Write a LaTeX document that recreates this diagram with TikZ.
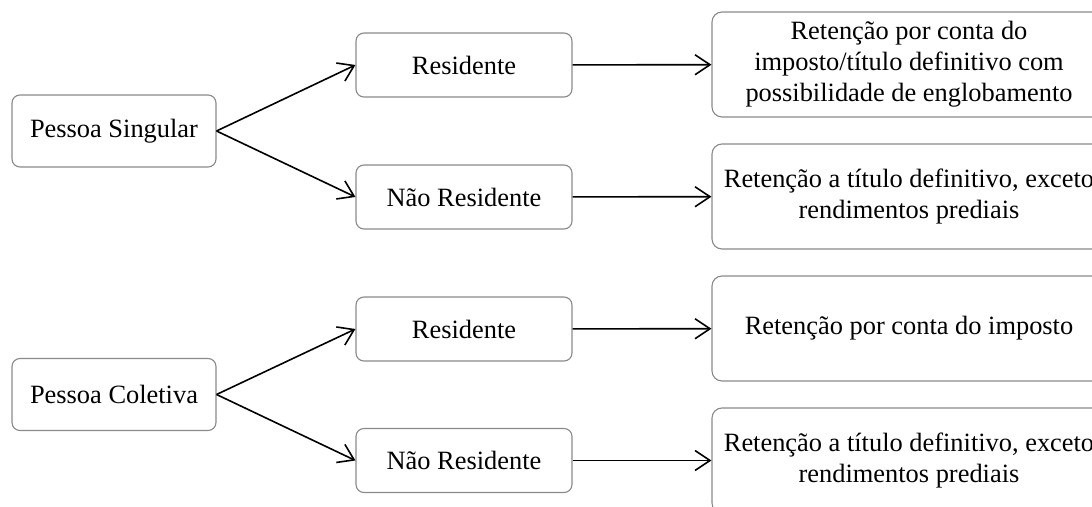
\documentclass[tikz,border=0pt]{standalone}
\usepackage{fontspec}
\setmainfont{Liberation Serif}
\usepackage{tikz}
\usetikzlibrary{arrows.meta,positioning}
\definecolor{edge}{HTML}{8A8A8A}
\tikzset{
  person/.style={draw=edge, line width=0.55pt, rounded corners=4pt, fill=white,
                 minimum width=102pt, minimum height=36pt, align=center},
  resid/.style={draw=edge, line width=0.55pt, rounded corners=4pt, fill=white,
                minimum width=108pt, minimum height=32pt, align=center},
  regime/.style={draw=edge, line width=0.55pt, rounded corners=5pt, fill=white,
                 minimum width=197pt, minimum height=52.5pt, align=center},
  flow/.style={-{Straight Barb[length=7.5pt,width=10pt,line width=0.8pt]}, line width=0.8pt, draw=black}
}
\begin{document}
\begin{tikzpicture}[x=0.5pt, y=-0.5pt, font=\fontsize{13.2}{15.5}\selectfont]
    \useasboundingbox (0,0) rectangle (1092,507);
    \clip (0,0) rectangle (1092,507);
    % pessoa singular
    \node[person] (ps) at (114,131) {Pessoa Singular};
    \node[resid] (psr) at (464,65) {Residente};
    \node[resid] (psn) at (464,197) {Não Residente};
    \node[regime] (psrt) at (909,64.5)
      {Retenção por conta do\\ imposto/título definitivo com\\ possibilidade de englobamento};
    \node[regime] (psnt) at (909,196.5)
      {Retenção a título definitivo, exceto\\ rendimentos prediais};
    % pessoa coletiva
    \node[person] (pc) at (114,394.5) {Pessoa Coletiva};
    \node[resid] (pcr) at (464,329) {Residente};
    \node[resid] (pcn) at (464,460.5) {Não Residente};
    \node[regime] (pcrt) at (909,328.5) {Retenção por conta do imposto};
    \node[regime] (pcnt) at (909,460.5)
      {Retenção a título definitivo, exceto\\ rendimentos prediais};
    % ligacoes
    \draw[flow] (ps.east) -- (psr.west);
    \draw[flow] (ps.east) -- (psn.west);
    \draw[flow] (pc.east) -- (pcr.west);
    \draw[flow] (pc.east) -- (pcn.west);
    \draw[flow] (psr) -- (psrt);
    \draw[flow] (psn) -- (psnt);
    \draw[flow] (pcr) -- (pcrt);
    \draw[flow] (pcn) -- (pcnt);
  \end{tikzpicture}
\end{document}
